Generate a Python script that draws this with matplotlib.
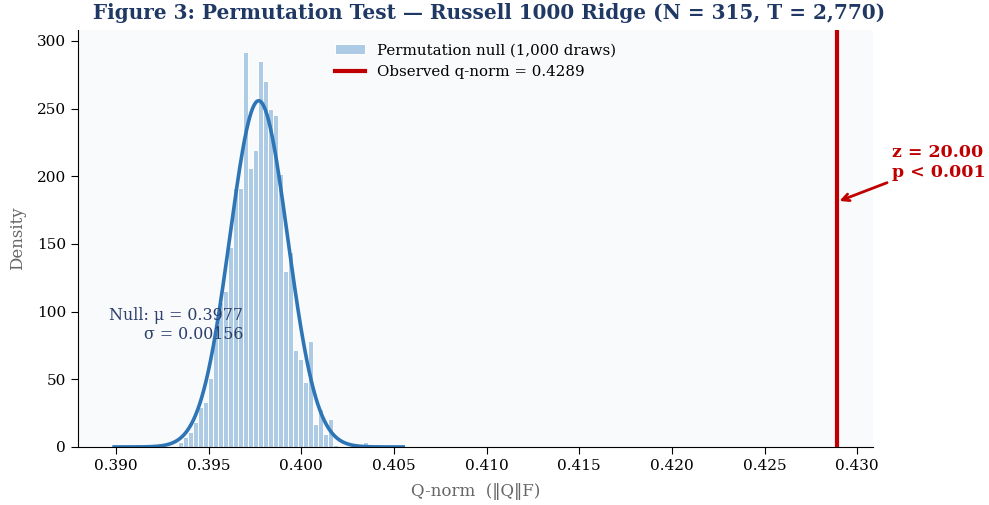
import numpy as np
import matplotlib
matplotlib.use("Agg")
import matplotlib.pyplot as plt

plt.rcParams['font.family'] = ['DejaVu Serif', 'DejaVu Sans']

# ---- data ----
bin_start = 0.39335          # left edge of first histogram bin
bin_width = 0.00027          # histogram bin width
density = [3.7, 7.3, 11.0, 18.3, 29.4, 33.0, 51.0, 84.0, 107.0, 115.0,
           148.0, 191.0, 191.0, 292.0, 206.0, 219.5, 285.0, 270.5, 250.0, 245.0,
           202.0, 130.0, 144.0, 72.0, 65.0, 48.0, 78.0, 17.0, 28.0, 9.6,
           20.7, 1.5, 0.0, 0.0, 0.0, 0.0, 0.0, 3.7]
mu = 0.3977
sigma = 0.00156
observed = 0.4289
z_score = 20.00
n_draws = 1000

# ---- figure ----
fig = plt.figure(figsize=(9.89, 5.05), dpi=100)
ax = fig.add_axes([0.0789, 0.1149, 0.8038, 0.8257])
ax.set_facecolor('#f8fafc')

lefts = bin_start + bin_width * np.arange(len(density))
bars = ax.bar(lefts, density, width=bin_width, align='edge', color='#aecbe6',
              edgecolor='white', linewidth=0.7)

xs = np.linspace(mu - 5 * sigma, mu + 5 * sigma, 400)
pdf = np.exp(-0.5 * ((xs - mu) / sigma) ** 2) / (sigma * np.sqrt(2 * np.pi))
ax.plot(xs, pdf, color='#2e75b6', lw=2.6)

vline = ax.axvline(observed, color='#c00000', lw=3)

ax.set_xlim(mu - 5 * sigma - 0.00195, observed + 0.00195)
ax.set_ylim(0, 308)
ax.set_xticks([0.390, 0.395, 0.400, 0.405, 0.410, 0.415, 0.420, 0.425, 0.430])
ax.xaxis.set_major_formatter(matplotlib.ticker.FormatStrFormatter('%.3f'))
ax.set_yticks([0, 50, 100, 150, 200, 250, 300])
ax.tick_params(labelsize=11, length=5)

for s in ['top', 'right']:
    ax.spines[s].set_visible(False)

ax.set_xlabel('Q-norm  (‖Q‖F)', fontsize=12, color='#666666', labelpad=7)
ax.set_ylabel('Density', fontsize=12, color='#666666', labelpad=8)

ax.text(0.39686, 90, f'Null: μ = {mu:.4f}\nσ = {sigma:.5f}', ha='right', va='center',
        multialignment='right', fontsize=11.4, color='#2c3e6b')

ax.annotate(f'z = {z_score:.2f}\np < 0.001', xy=(observed, 181), xytext=(0.4319, 210),
            ha='left', va='center', fontsize=12.5, fontweight='bold', color='#c00000',
            arrowprops=dict(arrowstyle='->', color='#c00000', lw=2),
            annotation_clip=False)

ax.legend([bars, vline],
          [f'Permutation null ({n_draws:,} draws)', f'Observed q-norm = {observed:.4f}'],
          loc='upper center', frameon=False, fontsize=10.8)

fig.suptitle('Figure 3: Permutation Test — Russell 1000 Ridge (N = 315, T = 2,770)',
             fontsize=14.4, fontweight='bold', color='#1f3864', x=0.494, y=0.995)

fig.savefig('out.png', dpi=100)
